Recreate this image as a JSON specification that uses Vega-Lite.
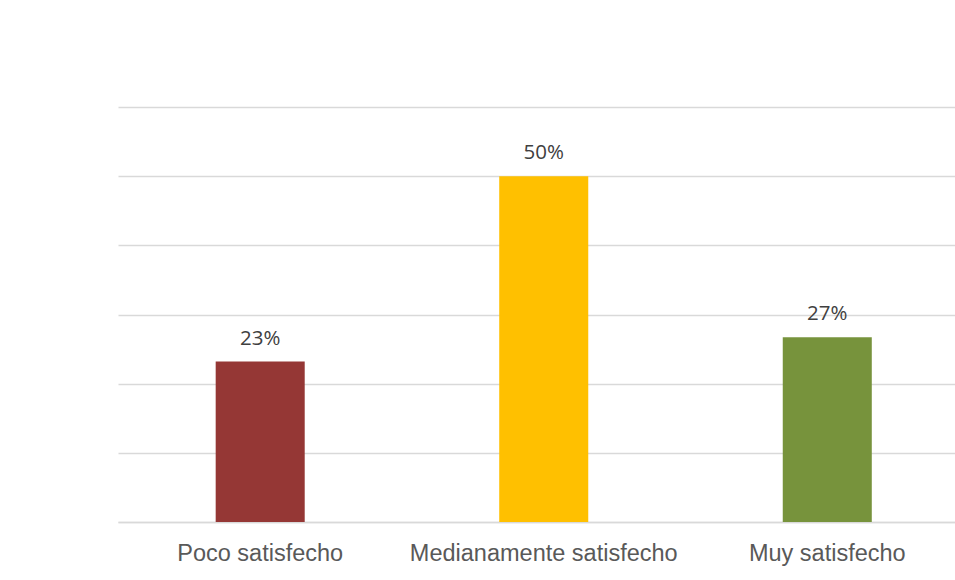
{
  "$schema": "https://vega.github.io/schema/vega-lite/v6.json",
  "autosize": {"type": "none"},
  "padding": {"left": 118, "top": 107, "right": 0, "bottom": 58},
  "width": 837,
  "height": 415,
  "background": "white",
  "config": {"view": {"stroke": null}},
  "data": {"values": [
    {"categoria": "Poco satisfecho", "porcentaje": 0.232, "color": "#953735"},
    {"categoria": "Medianamente satisfecho", "porcentaje": 0.5, "color": "#FFC000"},
    {"categoria": "Muy satisfecho", "porcentaje": 0.267, "color": "#77933C"}
  ]},
  "encoding": {
    "x": {
      "field": "categoria", "type": "nominal", "sort": null,
      "scale": {"paddingInner": 0.686, "paddingOuter": 0.319, "align": 0.54},
      "axis": {
        "title": null, "labelAngle": 0, "ticks": false, "tickSize": 0,
        "domain": true, "domainColor": "#d9d9d9", "domainWidth": 1.5,
        "labelFont": "Liberation Sans", "labelFontSize": 23.5, "labelColor": "#595959",
        "labelBaseline": "alphabetic", "labelPadding": 38, "labelLimit": 0
      }
    },
    "y": {
      "field": "porcentaje", "type": "quantitative",
      "scale": {"domain": [0, 0.6], "nice": false},
      "axis": {
        "title": null, "labels": false, "ticks": false, "domain": false,
        "grid": true, "gridColor": "#d9d9d9", "gridWidth": 1.5,
        "values": [0, 0.1, 0.2, 0.3, 0.4, 0.5, 0.6]
      }
    }
  },
  "layer": [
    {
      "mark": {"type": "bar"},
      "encoding": {"color": {"field": "color", "type": "nominal", "scale": null, "legend": null}}
    },
    {
      "mark": {"type": "text", "baseline": "alphabetic", "dy": -17, "font": "Open Sans", "fontSize": 20.5, "color": "#404040"},
      "encoding": {"text": {"field": "porcentaje", "type": "quantitative", "format": ".0%"}}
    }
  ]
}
